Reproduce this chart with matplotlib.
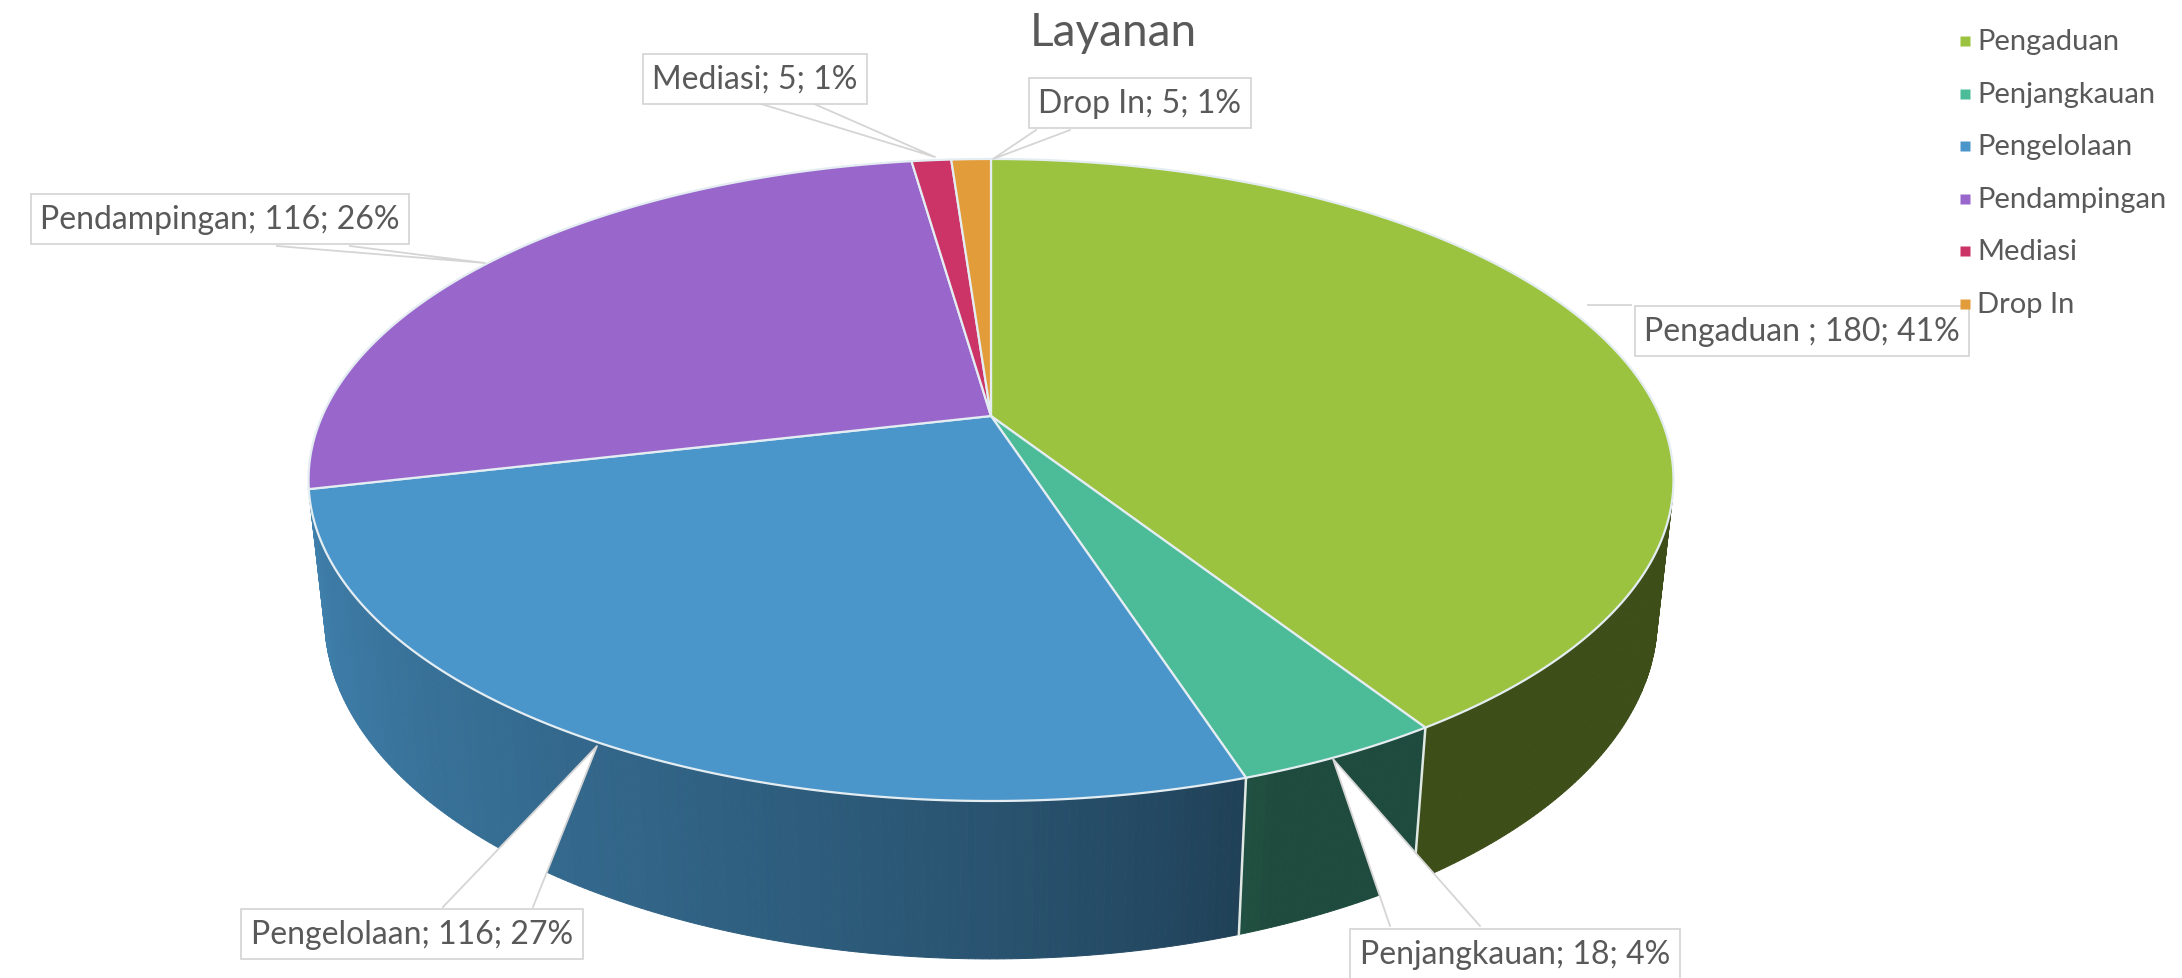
import numpy as np
import matplotlib
matplotlib.use('Agg')
import matplotlib.pyplot as plt
from matplotlib.patches import Polygon

# ---------------- data ----------------
categories = ['Pengaduan', 'Penjangkauan', 'Pengelolaan', 'Pendampingan', 'Mediasi', 'Drop In']
label_names = ['Pengaduan ', 'Penjangkauan', 'Pengelolaan', 'Pendampingan', 'Mediasi', 'Drop In']
values = [180, 18, 116, 116, 5, 5]
percent_labels = ['41%', '4%', '27%', '26%', '1%', '1%']
title = 'Layanan'

# ---------------- style / layout ----------------
top_colors = ['#9cc33f', '#4cbb98', '#4a96ca', '#9966cc', '#cc3366', '#e39c3a']
text_color = '#595959'
FONT = ['Lato', 'DejaVu Sans']

# label box centres (pixels) and leader wedges
label_pos = [(1802, 332), (1515, 955), (412, 935), (220, 220), (755, 80), (1140, 104)]
leaders = [
    [(1588, 306), (1631, 306)],
    [(1333, 760), (1390, 927), (1480, 927)],
    [(597, 747), (443, 908), (533, 908)],
    [(485, 264), (277, 247), (350, 247)],
    [(935, 158), (758, 104), (812, 104)],
    [(993, 160), (1036, 131), (1070, 131)],
]

W, H = 2182, 979
fig = plt.figure(figsize=(W / 100, H / 100), dpi=100)
ax = fig.add_axes([0, 0, 1, 1])
ax.set_xlim(0, W)
ax.set_ylim(H, 0)
ax.axis('off')

# perspective camera
elev = np.radians(27)
cam_d = 4.47
focal = 3035
xscale = 0.985
cx, cy = 991, 417
thick = 0.23
fvec = np.array([0, np.cos(elev), -np.sin(elev)])
uvec = np.array([0, np.sin(elev), np.cos(elev)])
cam = -cam_d * fvec


def proj(theta_deg, r, z):
    t = np.radians(np.atleast_1d(np.asarray(theta_deg, dtype=float)))
    P = np.stack([r * np.sin(t), r * np.cos(t), np.full_like(t, z)], axis=-1)
    v = P - cam
    depth = v @ fvec
    xs = v[..., 0] / depth * focal * xscale
    ys = (v @ uvec) / depth * focal
    return cx + xs, cy - ys


def shade(color, theta):
    rgb = np.array(matplotlib.colors.to_rgb(color))
    k = 0.4 + 0.45 * np.clip((theta - 160) / 95.0, 0, 1) ** 0.7
    return tuple(rgb * k)


vals = np.array(values, dtype=float)
cum = np.concatenate([[0], np.cumsum(vals)]) / vals.sum() * 360.0

theta_lo = np.degrees(np.arccos(-1.0 / (cam_d * np.cos(elev))))
theta_hi = 360 - theta_lo

# side walls
for i in range(len(values)):
    a = max(cum[i], theta_lo)
    b = min(cum[i + 1], theta_hi)
    if a >= b:
        continue
    n = max(2, int((b - a) / 0.5))
    ts = np.linspace(a, b, n + 1)
    for t0, t1 in zip(ts[:-1], ts[1:]):
        x0, y0 = proj([t0, t1], 1, 0)
        x1, y1 = proj([t1, t0], 1, -thick)
        col = shade(top_colors[i], 0.5 * (t0 + t1))
        ax.add_patch(Polygon(np.column_stack([np.r_[x0, x1], np.r_[y0, y1]]),
                             closed=True, fc=col, ec=col, lw=0.7, zorder=1))

# vertical edges on wall
for t in cum[1:-1]:
    if theta_lo < t < theta_hi:
        xa, ya = proj(t, 1, 0)
        xb, yb = proj(t, 1, -thick)
        ax.plot([xa[0], xb[0]], [ya[0], yb[0]], color='#dfe8e2', lw=1.8, zorder=2)

# top faces
ax0, ay0 = proj(0, 0, 0)
for i in range(len(values)):
    ts = np.linspace(cum[i], cum[i + 1], max(3, int((cum[i + 1] - cum[i]) / 0.25)))
    xs, ys = proj(ts, 1, 0)
    pts = np.column_stack([np.r_[ax0, xs], np.r_[ay0, ys]])
    ax.add_patch(Polygon(pts, closed=True, fc=top_colors[i], ec='#e4edf2', lw=1.6, zorder=3))

# leaders
for ld in leaders:
    pts = np.array(ld)
    if len(pts) == 2:
        ax.plot(pts[:, 0], pts[:, 1], color='#d5d5d5', lw=1.3, zorder=4)
    else:
        ax.add_patch(Polygon(pts, closed=True, fc='white', ec='none', zorder=4))
        ax.plot([pts[1, 0], pts[0, 0], pts[2, 0]], [pts[1, 1], pts[0, 1], pts[2, 1]],
                color='#d5d5d5', lw=1.3, zorder=4)

# data labels
for i in range(len(values)):
    s = f'{label_names[i]}; {values[i]}; {percent_labels[i]}'
    x, y = label_pos[i]
    ax.text(x, y, s, ha='center', va='center', fontsize=23, color=text_color,
            family=FONT, zorder=6,
            bbox=dict(boxstyle='square,pad=0.3', fc='white', ec='#d3d3d3', lw=1.2))

# title
ax.text(1113, 33, title, ha='center', va='center', fontsize=33, color=text_color, family=FONT)

# legend
leg_y0, leg_dy = 42, 52.6
for i, c in enumerate(categories):
    y = leg_y0 + i * leg_dy
    ax.plot([1965], [y], marker='s', ms=7, color=top_colors[i], mec='none', zorder=7)
    ax.text(1977, y, c, ha='left', va='center', fontsize=21, color=text_color,
            family=FONT, zorder=7)

fig.savefig('out.png', dpi=100, facecolor='white')
